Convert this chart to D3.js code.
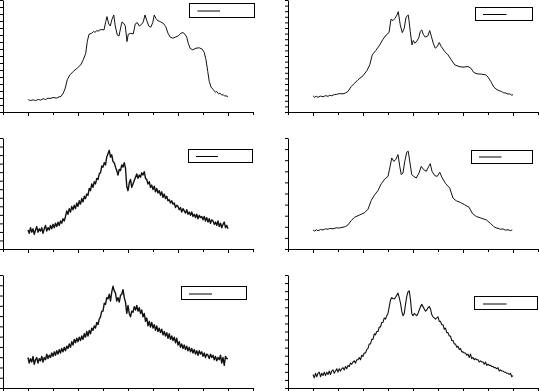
<!DOCTYPE html>
<html><head><meta charset="utf-8">
<script src="https://cdn.jsdelivr.net/npm/d3@7"></script>
<style>body{margin:0;background:#fff}svg{display:block}</style>
</head><body>
<svg id="c" width="539" height="391"></svg>
<script>
// x axis tick values (labels are not legible in the reference)
const xTickValues = [0,10,20,30,40,50,60,70,80,90,100];
const majorX = [10,30,50,70,90];

// Smooth spectra: [x, intensity] pairs
const seriesTL = [[10.1,11.0],[11,10.2],[12.1,10.9],[13,10.1],[14.1,11.3],[15,10.6],[16.1,11.9],[17,11.1],[18,12.4],[18.8,12.0],[20,12.9],[21.5,12.5],[22.4,13.5],[23.2,13.9],[24.1,16.9],[24.8,20.5],[25.7,28.8],[26.8,33.2],[28.1,36.2],[29.7,39.2],[31.1,42.1],[32.1,46.6],[33.1,52.5],[33.7,62.9],[34.4,69.4],[35.5,70.3],[36.2,71.8],[36.8,71.2],[37.5,72.6],[38.1,72.2],[38.8,73.4],[39.5,73.6],[40.4,73.3],[41.1,80.7],[41.6,85.2],[42.3,78.6],[42.9,76.8],[43.6,82.8],[44.3,86.6],[44.9,76.8],[45.7,68.8],[46.4,67.9],[47.1,75.7],[47.6,80.4],[48.3,79.2],[48.9,76.8],[49.6,62.9],[50.1,69.4],[51.1,70.3],[52.1,69.7],[52.9,78.6],[53.7,79.8],[54.5,76.8],[55.3,78.0],[56.1,80.4],[56.8,86.6],[57.5,81.6],[58.3,76.8],[59.1,75.7],[59.9,79.8],[60.5,86.6],[61.2,83.4],[62.0,81.3],[62.6,81.0],[63.1,80.4],[64.1,79.2],[65.1,76.2],[66.0,70.3],[66.9,66.8],[67.9,65.9],[68.9,66.8],[70.1,67.9],[71.1,70.3],[72.0,70.9],[72.8,69.4],[73.5,66.8],[74.1,61.4],[74.9,56.7],[75.9,55.5],[77.2,57.0],[78.5,57.3],[79.7,56.1],[80.5,53.1],[81.2,46.6],[81.9,36.2],[82.5,27.3],[83.2,22.3],[84.1,19.9],[85,17.6],[85.5,18.3],[86.2,16.3],[86.8,16.8],[87.5,15.1],[88.1,15.5],[88.7,14.1],[89.2,14.6],[90,13.4]];

const seriesTR = [[10,14.5],[10.6,13.2],[11.3,14.0],[12,13.1],[13,14.2],[14,13.6],[15,14.6],[16,14.0],[16.7,14.9],[17.5,14.5],[18.5,15.5],[19.3,15.7],[20.5,16.4],[22,16.2],[23,17.0],[24,18.4],[25.3,22.8],[26.7,25.8],[28,28.8],[30,32.3],[31.6,37.1],[32.7,42.1],[33.7,51.0],[35.1,54.9],[36.7,59.9],[38,65.0],[39.3,68.8],[40.4,70.9],[41.2,82.8],[42,81.6],[42.8,83.7],[43.6,86.6],[44.1,89.6],[44.9,77.7],[45.7,70.9],[46.5,74.8],[47.2,84.6],[48.1,86.6],[48.4,81.6],[48.9,71.8],[49.6,59.9],[50.1,63.8],[50.8,61.4],[51.5,63.2],[52.3,66.2],[52.9,71.8],[53.5,73.3],[54.1,69.4],[54.9,66.8],[55.9,67.9],[56.7,72.7],[57.5,66.2],[58.1,61.4],[58.9,57.0],[59.7,58.4],[60.5,62.0],[61.3,58.4],[62.7,54.0],[64,51.0],[65.3,46.6],[66.7,42.1],[68.4,40.6],[70,40.0],[72,40.6],[73.1,39.2],[74.3,35.3],[75.6,34.1],[77.3,33.8],[79.1,33.2],[80,31.2],[81.1,27.3],[82.3,22.3],[83.6,19.9],[84.5,19.0],[85.3,18.4],[86.2,17.2],[87.1,16.9],[88,16.0],[88.7,16.2],[89.4,15.1],[90,15.4]];

const seriesMR = [[10,17.0],[10.7,16.0],[11.4,17.2],[12,16.2],[13,17.4],[14,17.0],[15,18.0],[16,17.6],[16.7,18.4],[18,18.0],[19.3,18.9],[20.5,18.7],[22,19.5],[23,20.0],[24,21.5],[25.3,25.4],[26.7,28.4],[28.7,30.4],[30.7,32.5],[32,35.5],[33.3,43.3],[34.7,48.4],[36,52.2],[37.3,58.2],[38.7,62.4],[40,64.8],[40.7,72.2],[41.5,81.2],[42.3,78.2],[43.1,79.7],[44,84.2],[44.7,73.7],[45.3,66.3],[46,67.8],[46.7,78.2],[47.5,86.3],[48.1,87.2],[48.8,76.7],[49.5,66.3],[50.3,64.8],[51.3,63.3],[52.4,67.8],[53.3,73.7],[54.3,70.7],[55.3,69.3],[56.3,73.7],[56.9,76.1],[57.6,69.3],[58.7,65.4],[59.7,64.8],[60.7,68.4],[61.7,63.3],[63.1,58.2],[64.7,54.3],[66,45.4],[67.3,43.0],[69,41.5],[70.7,39.4],[72.4,37.3],[73.7,31.9],[75.3,29.0],[77.3,27.5],[79.3,26.0],[80.9,23.0],[82.3,20.0],[83.2,18.8],[84,18.5],[85,17.6],[86,17.9],[87,16.8],[88,17.2],[89,16.4],[89.7,17.0]];

// Noisy spectra: intensities sampled every 0.5 from x = 10 to x = 90
const gridStart = 10, gridStep = 0.5;
const seriesML = [17,14,19,15,18,13,17,20,15,18, 16,19,14,18,21,16,19,17,21,18, 22,19,23,20,24,21,25,23,27,25, 29,34,31,36,33,38,35,39,36,41, 38,43,40,45,42,47,45,49,48,54, 52,58,55,60,58,63,62,67,68,74, 73,77,75,82,85,88,82,84,78,77, 73,70,66,71,70,75,73,77,72,56, 52,59,62,55,58,61,64,67,63,66, 64,68,66,69,63,62,58,60,55,57, 53,56,51,54,50,52,48,51,46,49, 45,47,43,44,41,43,40,41,37,39, 38,35,37,33,36,34,32,35,31,33, 30,33,29,31,28,31,27,30,28,29, 26,29,25,28,24,27,23,26,25,22, 24,21,25,20,23,19,22,24,19,21, 18];
const seriesBL = [27,22,26,23,28,21,25,27,22,26, 24,28,23,27,25,30,26,29,27,31, 28,32,29,33,30,34,31,35,32,36, 33,37,35,39,36,41,38,43,40,44, 41,45,42,46,43,48,45,50,46,51, 48,53,51,55,53,58,56,61,63,68, 68,75,74,80,79,83,77,85,90,86, 84,77,80,76,82,83,87,80,76,66, 73,66,63,68,67,72,69,73,68,71, 66,69,63,66,59,62,55,59,54,58, 53,56,51,55,50,53,49,52,47,50, 46,49,44,48,43,46,42,45,40,44, 38,41,36,39,35,38,34,37,33,36, 32,35,31,34,30,33,29,33,30,32, 28,31,27,30,29,26,30,27,29,25, 28,24,27,25,29,22,27,20,28,26, 26];
const seriesBR = [12,9,13,10,13,14,10,13,11,14, 11,14,12,15,12,15,16,13,15,17, 14,17,15,17,18,16,19,17,20,19, 22,21,23,24,22,25,25,27,25,29, 28,31,31,34,35,39,39,43,43,48, 47,50,50,54,54,58,58,62,61,64, 66,72,78,80,79,79,80,82,84,80, 75,68,64,66,74,81,85,86,78,66, 64,66,65,64,66,69,72,74,72,70, 68,69,71,72,70,65,63,62,61,62, 63,59,59,56,56,52,53,49,49,46, 46,42,42,39,39,36,37,34,35,32, 32,31,31,29,30,27,30,26,27,25, 26,25,25,23,24,23,23,21,23,20, 21,20,20,19,19,18,18,17,18,15, 16,15,15,14,14,13,13,12,13,10, 11];

const toPairs = vals => vals.map((v, i) => [gridStart + i * gridStep, v]);

const panels = [
  {data: seriesTL, x0: 3,   top: 0,   bottom: 112, yMax: 100, nTicks: 16, sw: 1.0, leg: [189.5, 3.5, 65, 14, 197.5, 220, 11]},
  {data: seriesTR, x0: 288, top: 0,   bottom: 112, yMax: 100, nTicks: 20, sw: 1.0, leg: [475.5, 7.5, 57, 13, 483, 506.5, 14.5]},
  {data: toPairs(seriesML), x0: 3,   top: 138, bottom: 249, yMax: 99, nTicks: 13, sw: 1.4, leg: [188.5, 149.5, 64, 13, 196, 218, 156.5]},
  {data: seriesMR, x0: 288, top: 138, bottom: 249, yMax: 99, nTicks: 10, sw: 1.0, leg: [471.5, 150.5, 61, 13, 479, 501.5, 157]},
  {data: toPairs(seriesBL), x0: 3,   top: 275, bottom: 388, yMax: 100, nTicks: 11, sw: 1.4, leg: [181.5, 286.5, 65, 13, 189, 212, 294]},
  {data: toPairs(seriesBR), x0: 288, top: 275, bottom: 388, yMax: 100, nTicks: 14, sw: 1.1, leg: [474.5, 296.5, 63, 13, 483, 506.5, 304]}
];

const svg = d3.select('#c');

panels.forEach(p => {
  const g = svg.append('g');
  const x = d3.scaleLinear().domain([0, 100]).range([p.x0, p.x0 + 250]);
  const y = d3.scaleLinear().domain([0, p.yMax]).range([p.bottom, p.top]);

  const yTicks = d3.range(p.nTicks + 1).map(i => p.yMax * i / p.nTicks);

  const xa = g.append('g').attr('transform', `translate(0,${p.bottom})`)
    .call(d3.axisBottom(x).tickValues(xTickValues).tickSize(3).tickSizeOuter(0).tickFormat(''));
  xa.selectAll('.tick line').attr('y2', d => majorX.includes(d) ? 4 : 3);

  g.append('g').attr('transform', `translate(${p.x0},0)`)
    .call(d3.axisLeft(y).tickValues(yTicks).tickSize(3).tickSizeOuter(0).tickFormat(''));

  g.selectAll('.domain, .tick line').attr('stroke', '#000').attr('stroke-width', 1);

  const line = d3.line().x(d => x(d[0])).y(d => y(d[1]));
  g.append('path').datum(p.data)
    .attr('d', line).attr('fill', 'none')
    .attr('stroke', '#111').attr('stroke-width', p.sw).attr('stroke-linejoin', 'round');

  const L = p.leg;
  g.append('rect').attr('x', L[0]).attr('y', L[1]).attr('width', L[2]).attr('height', L[3])
    .attr('fill', '#fff').attr('stroke', '#000').attr('stroke-width', 1);
  g.append('line').attr('x1', L[4]).attr('x2', L[5]).attr('y1', L[6]).attr('y2', L[6])
    .attr('stroke', '#000').attr('stroke-width', 1);
});
</script>
</body></html>
